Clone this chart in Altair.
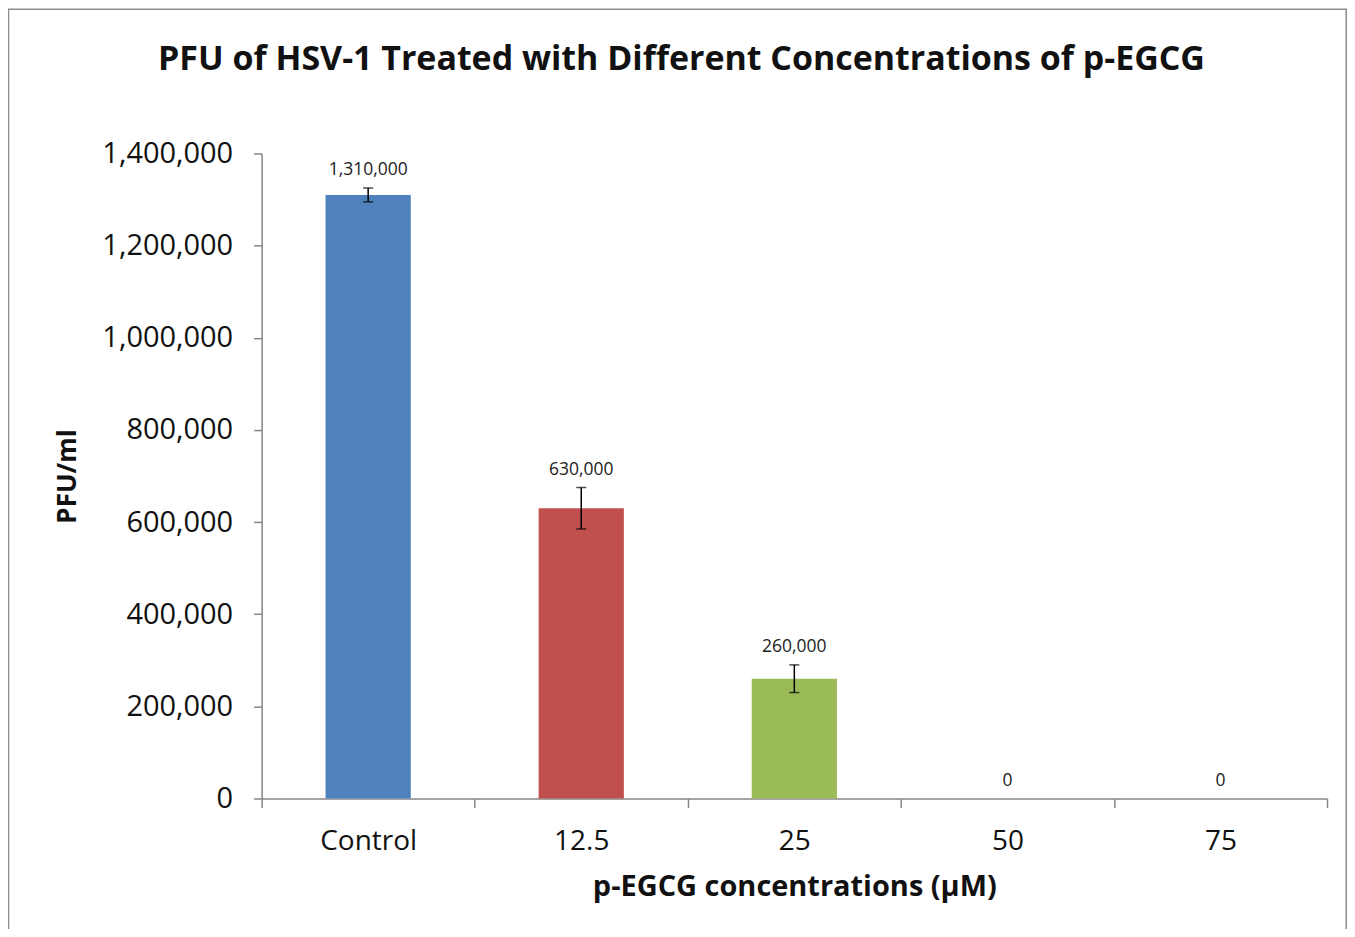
import altair as alt
import pandas as pd

categories = ["Control", "12.5", "25", "50", "75"]
values = [1310000, 630000, 260000, 0, 0]
errors = [15000, 45000, 30000, 0, 0]
colors = ["#4F81BD", "#C0504D", "#9BBB59", "#8064A2", "#4BACC6"]

df = pd.DataFrame({"conc": categories, "pfu": values, "err": errors})
df["lo"] = df["pfu"] - df["err"]
df["hi"] = df["pfu"] + df["err"]

FONT = "Open Sans"
W, H = 1067, 646

xaxis = alt.Axis(
    title="p-EGCG concentrations (µM)",
    labelAngle=0,
    tickBand="extent",
    domainColor="#868686",
    tickColor="#868686",
    domainWidth=1.5,
    tickWidth=1.5,
    tickSize=9,
    labelFontSize=28,
    labelFont=FONT,
    labelColor="#111111",
    labelPadding=20,
    titleFont=FONT,
    titleFontSize=29,
    titleFontWeight="bold",
    titleColor="#111111",
    titleX=W / 2,
    titleY=88,
    titleAlign="center",
    titleBaseline="middle",
)
xscale = alt.Scale(paddingInner=0, paddingOuter=0)

yscale = alt.Scale(domain=[0, 1400000])
yaxis = alt.Axis(
    title="PFU/ml",
    values=[0, 200000, 400000, 600000, 800000, 1000000, 1200000, 1400000],
    format=",d",
    grid=False,
    domainColor="#868686",
    tickColor="#868686",
    domainWidth=1.5,
    tickWidth=1.5,
    tickSize=8,
    labelFontSize=29,
    labelFont=FONT,
    labelColor="#111111",
    labelPadding=21,
    titleFont=FONT,
    titleFontSize=26,
    titleFontWeight="bold",
    titleColor="#111111",
    titleX=-194,
    titleY=H / 2,
    titleAngle=-90,
    titleAlign="center",
    titleBaseline="middle",
)


def X():
    return alt.X("conc:N", sort=categories, scale=xscale, axis=xaxis)


def Y(field):
    return alt.Y(field, scale=yscale, axis=yaxis)


base = alt.Chart(df)

frame = base.transform_filter("datum.conc == 'Control'").mark_rect(
    fill=None, stroke="#8c8c8c", strokeWidth=1.5
).encode(
    x=alt.value(-253.5), x2=alt.value(1086.2), y=alt.value(-144.5), y2=alt.value(800)
)

bars = base.mark_bar(width={"band": 0.4}).encode(
    x=X(),
    y=Y("pfu:Q"),
    color=alt.Color("conc:N", scale=alt.Scale(domain=categories, range=colors), legend=None),
)

err = base.transform_filter("datum.err > 0")
rules = err.mark_rule(color="black", strokeWidth=1.5).encode(
    x=X(), y=Y("lo:Q"), y2="hi:Q"
)
caps_hi = err.mark_tick(color="black", thickness=1.5, size=10).encode(x=X(), y=Y("hi:Q"))
caps_lo = err.mark_tick(color="black", thickness=1.5, size=10).encode(x=X(), y=Y("lo:Q"))

labels = base.mark_text(dy=-18, fontSize=17.5, font=FONT, color="#222222", baseline="middle").encode(
    x=X(),
    y=Y("hi:Q"),
    text=alt.Text("pfu:Q", format=",d"),
)

chart = alt.layer(frame, bars, rules, caps_hi, caps_lo, labels).properties(
    width=W,
    height=H,
    title=alt.TitleParams(
        "PFU of HSV-1 Treated with Different Concentrations of p-EGCG",
        font=FONT,
        fontSize=34,
        fontWeight="bold",
        color="#111111",
        anchor="middle",
        dx=-113,
        offset=-96,
        baseline="alphabetic",
    ),
    padding={"left": 254, "top": 145, "right": 20, "bottom": 130},
    autosize=alt.AutoSizeParams(type="none"),
).configure(background="white", view=alt.ViewConfig(strokeWidth=0, stroke="transparent"))

chart.save("out.html", embed_options={"renderer": "svg", "actions": False})
